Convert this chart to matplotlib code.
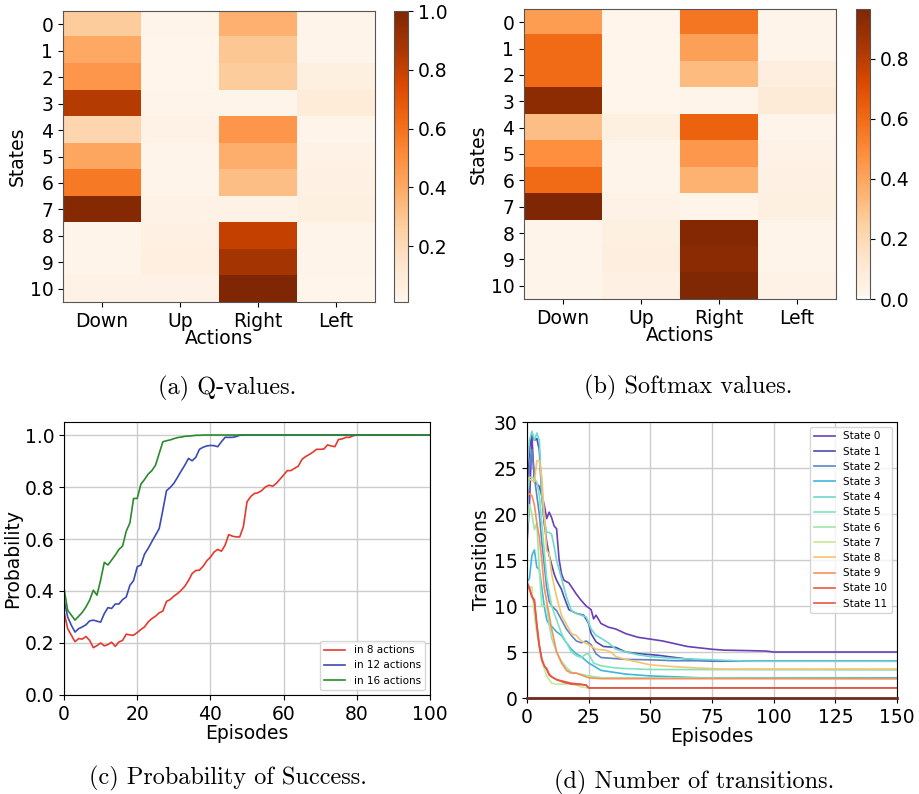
import matplotlib
matplotlib.use("Agg")
import matplotlib.pyplot as plt
import numpy as np

# ---- dados ----
estados = [str(i) for i in range(11)]
acoes = ["Down", "Up", "Right", "Left"]

q_values = [
    [0.27, 0.02, 0.37, 0.02],
    [0.40, 0.01, 0.29, 0.02],
    [0.47, 0.01, 0.27, 0.05],
    [0.84, 0.02, 0.02, 0.09],
    [0.22, 0.03, 0.47, 0.02],
    [0.41, 0.02, 0.38, 0.03],
    [0.57, 0.02, 0.32, 0.04],
    [0.98, 0.03, 0.03, 0.05],
    [0.02, 0.04, 0.80, 0.02],
    [0.02, 0.06, 0.88, 0.02],
    [0.03, 0.03, 1.00, 0.01],
]

softmax_values = [
    [0.43, 0.01, 0.56, 0.02],
    [0.60, 0.01, 0.42, 0.02],
    [0.60, 0.01, 0.32, 0.06],
    [0.92, 0.01, 0.02, 0.09],
    [0.31, 0.05, 0.63, 0.02],
    [0.48, 0.02, 0.45, 0.03],
    [0.60, 0.02, 0.35, 0.04],
    [0.966, 0.03, 0.02, 0.05],
    [0.02, 0.05, 0.95, 0.02],
    [0.02, 0.06, 0.93, 0.02],
    [0.02, 0.04, 0.96, 0.03],
]

# probabilidade de sucesso, episódios 0..100
p_8 = [0.32, 0.255, 0.23, 0.205, 0.217, 0.215, 0.225, 0.21, 0.182, 0.19,
       0.20, 0.189, 0.194, 0.203, 0.187, 0.204, 0.21, 0.234, 0.231, 0.23,
       0.24, 0.252, 0.262, 0.281, 0.294, 0.303, 0.316, 0.323, 0.36, 0.367,
       0.38, 0.39, 0.403, 0.418, 0.44, 0.467, 0.479, 0.48, 0.495, 0.516,
       0.53, 0.55, 0.56, 0.553, 0.576, 0.617, 0.611, 0.608, 0.608, 0.647,
       0.743, 0.763, 0.775, 0.778, 0.786, 0.80, 0.807, 0.803, 0.814, 0.83,
       0.846, 0.863, 0.863, 0.872, 0.88, 0.906, 0.917, 0.925, 0.934, 0.945,
       0.945, 0.946, 0.962, 0.958, 0.955, 0.983, 0.985, 0.991, 0.991, 0.997,
       1.0, 1.0, 1.0, 1.0, 1.0, 1.0, 1.0, 1.0, 1.0, 1.0,
       1.0, 1.0, 1.0, 1.0, 1.0, 1.0, 1.0, 1.0, 1.0, 1.0, 1.0]
p_12 = [0.365, 0.30, 0.268, 0.242, 0.255, 0.262, 0.27, 0.285, 0.288, 0.284,
        0.28, 0.313, 0.336, 0.333, 0.35, 0.35, 0.367, 0.377, 0.422, 0.44,
        0.493, 0.50, 0.542, 0.564, 0.59, 0.615, 0.64, 0.711, 0.786, 0.798,
        0.814, 0.837, 0.861, 0.884, 0.91, 0.901, 0.914, 0.945, 0.953, 0.958,
        0.96, 0.959, 0.955, 0.974, 0.991, 0.991, 0.991, 0.994, 0.999, 1.0,
        1.0, 1.0, 1.0, 1.0, 1.0, 1.0, 1.0, 1.0, 1.0, 1.0,
        1.0, 1.0, 1.0, 1.0, 1.0, 1.0, 1.0, 1.0, 1.0, 1.0,
        1.0, 1.0, 1.0, 1.0, 1.0, 1.0, 1.0, 1.0, 1.0, 1.0,
        1.0, 1.0, 1.0, 1.0, 1.0, 1.0, 1.0, 1.0, 1.0, 1.0,
        1.0, 1.0, 1.0, 1.0, 1.0, 1.0, 1.0, 1.0, 1.0, 1.0, 1.0]
p_16 = [0.41, 0.326, 0.307, 0.288, 0.303, 0.318, 0.339, 0.365, 0.403, 0.384,
        0.442, 0.51, 0.50, 0.519, 0.538, 0.56, 0.573, 0.63, 0.662, 0.756,
        0.756, 0.811, 0.829, 0.85, 0.863, 0.884, 0.929, 0.974, 0.978, 0.981,
        0.986, 0.99, 0.992, 0.995, 0.996, 0.997, 0.999, 0.999, 1.0, 1.0,
        1.0, 1.0, 1.0, 1.0, 1.0, 1.0, 1.0, 1.0, 1.0, 1.0,
        1.0, 1.0, 1.0, 1.0, 1.0, 1.0, 1.0, 1.0, 1.0, 1.0,
        1.0, 1.0, 1.0, 1.0, 1.0, 1.0, 1.0, 1.0, 1.0, 1.0,
        1.0, 1.0, 1.0, 1.0, 1.0, 1.0, 1.0, 1.0, 1.0, 1.0,
        1.0, 1.0, 1.0, 1.0, 1.0, 1.0, 1.0, 1.0, 1.0, 1.0,
        1.0, 1.0, 1.0, 1.0, 1.0, 1.0, 1.0, 1.0, 1.0, 1.0, 1.0]
rotulos_prob = ["in 8 actions", "in 12 actions", "in 16 actions"]

# transições por estado: (episódio, valor)
trans_ep = {
    0: [0, 1, 2, 3, 5, 7, 8, 9, 10, 11, 12, 13, 14, 15, 17, 20, 22, 24, 26, 27,
        28, 30, 33, 36, 40, 45, 50, 55, 60, 65, 70, 75, 80, 90, 97, 100, 150],
    1: [0, 1, 2, 3, 4, 5, 6, 7, 8, 9, 10, 11, 12, 14, 15, 17, 20, 23, 25, 26,
        28, 31, 36, 40, 46, 53, 63, 70, 75, 150],
    2: [0, 1, 2, 3, 4, 5, 6, 7, 8, 9, 10, 12, 14, 16, 18, 20, 22, 24, 26, 28,
        30, 35, 40, 50, 60, 150],
    3: [0, 1, 2, 3, 4, 5, 6, 7, 8, 9, 10, 12, 14, 16, 18, 20, 22, 25, 27, 30,
        35, 40, 50, 60, 70, 150],
    4: [0, 1, 2, 3, 4, 5, 6, 7, 8, 9, 10, 11, 12, 14, 16, 18, 20, 22, 24, 26,
        28, 30, 33, 36, 40, 45, 50, 60, 70, 80, 90, 150],
    5: [0, 1, 2, 3, 4, 5, 6, 7, 8, 9, 10, 12, 14, 16, 18, 20, 22, 24, 25, 27,
        30, 35, 40, 50, 150],
    6: [0, 1, 2, 3, 4, 5, 6, 7, 8, 9, 10, 12, 14, 16, 18, 20, 25, 30, 150],
    7: [0, 1, 2, 3, 4, 5, 6, 7, 8, 9, 10, 12, 15, 18, 20, 22, 25, 150],
    8: [0, 1, 3, 4, 5, 6, 7, 8, 9, 10, 12, 14, 16, 18, 20, 22, 25, 28, 32, 34,
        36, 40, 45, 50, 60, 70, 80, 150],
    9: [0, 1, 2, 3, 4, 5, 6, 7, 8, 9, 10, 12, 14, 16, 18, 20, 22, 25, 30, 150],
    10: [0, 1, 2, 3, 4, 5, 6, 7, 8, 9, 10, 12, 15, 18, 22, 24, 25, 150],
    11: [0, 1, 2, 3, 4, 5, 6, 7, 8, 9, 10, 12, 15, 18, 22, 24, 25, 150],
}
trans_val = {
    0: [16.8, 21.0, 28.5, 23.5, 23.0, 21.0, 19.5, 20.2, 19.6, 18.7, 18.4, 15.1,
        13.5, 12.8, 12.5, 11.3, 10.6, 10.0, 9.6, 8.6, 9.0, 8.1, 7.7, 7.5, 7.0,
        6.6, 6.4, 6.2, 5.9, 5.6, 5.45, 5.3, 5.2, 5.15, 5.1, 5.0, 5.0],
    1: [22.0, 27.0, 28.8, 28.0, 28.2, 27.0, 22.0, 19.0, 17.0, 15.5, 14.5, 13.5,
        12.8, 11.8, 11.0, 9.6, 9.2, 9.0, 8.1, 7.0, 6.1, 5.6, 5.5, 5.0, 4.8,
        4.65, 4.3, 4.1, 4.0, 4.0],
    2: [20.0, 25.0, 27.0, 24.0, 22.0, 20.0, 17.0, 14.5, 12.0, 10.5, 10.0, 9.5,
        8.5, 7.5, 6.8, 6.2, 6.0, 6.2, 5.8, 4.8, 4.4, 4.3, 4.2, 4.15, 4.05, 4.0],
    3: [12.6, 13.0, 15.5, 16.1, 14.2, 14.0, 12.0, 10.0, 8.5, 8.0, 7.8, 7.2,
        6.8, 6.0, 5.3, 4.8, 4.5, 3.8, 3.5, 3.0, 2.8, 2.6, 2.4, 2.3, 2.2, 2.2],
    4: [25.0, 28.0, 29.0, 28.0, 28.8, 28.0, 22.0, 19.5, 18.0, 18.0, 17.8, 16.5,
        15.0, 13.0, 11.0, 9.5, 9.2, 9.0, 8.8, 7.5, 6.8, 6.5, 6.0, 5.3, 5.0,
        4.7, 4.5, 4.3, 4.2, 4.1, 4.0, 4.0],
    5: [22.0, 24.0, 24.0, 23.8, 23.5, 22.0, 19.0, 16.0, 13.0, 11.5, 10.0, 8.5,
        7.0, 6.0, 5.0, 4.6, 4.4, 4.8, 4.8, 3.8, 3.5, 3.3, 3.2, 3.1, 3.05],
    6: [18.0, 21.0, 20.0, 18.3, 19.0, 14.0, 10.0, 10.0, 10.0, 8.0, 6.5, 5.0,
        4.0, 3.3, 2.8, 2.7, 2.4, 2.2, 2.1],
    7: [12.3, 12.0, 12.1, 9.0, 7.0, 5.5, 4.2, 3.2, 2.4, 2.0, 1.6, 1.5, 1.5,
        1.6, 1.4, 1.2, 1.1, 1.1],
    8: [24.0, 23.8, 23.5, 25.8, 25.8, 24.0, 20.0, 16.0, 15.7, 13.5, 11.0, 9.0,
        8.0, 7.0, 6.8, 6.2, 5.8, 5.3, 5.2, 5.0, 4.5, 4.2, 3.9, 3.6, 3.4, 3.25,
        3.15, 3.15],
    9: [22.0, 22.2, 22.0, 21.0, 19.0, 17.5, 15.0, 12.0, 10.5, 9.0, 7.5, 5.0,
        3.8, 3.0, 2.7, 2.7, 2.5, 2.2, 2.1, 2.1],
    10: [12.5, 11.8, 11.0, 10.7, 7.8, 5.6, 4.1, 3.5, 3.1, 2.5, 2.3, 2.0, 1.7,
         1.5, 1.45, 1.4, 1.1, 1.1],
    11: [12.6, 12.0, 11.0, 10.5, 8.0, 5.8, 4.3, 3.5, 3.2, 2.6, 2.3, 2.0, 1.8,
         1.6, 1.5, 1.4, 1.1, 1.1],
}
cores_estados = ["#6a3fb5", "#4b4bb0", "#5d85c6", "#3fb6dc", "#6dd9cf", "#80e3c0",
                 "#9ee6a6", "#c8e89a", "#f7c36c", "#f98f5a", "#ea5a3c", "#e3584a"]
ep_zero = [0, 150]
val_zero = [0, 0]

TAM = 13.5
LEG = 7.5
CAP = 17.5

fig = plt.figure(figsize=(9.2, 7.94), dpi=100)


def heatmap(pos_ax, pos_cb, dados, ticks_cb):
    ax = fig.add_axes(pos_ax)
    im = ax.imshow(np.array(dados), cmap="Oranges", aspect="auto")
    ax.set_xticks(range(len(acoes)))
    ax.set_xticklabels(acoes, fontsize=TAM)
    ax.set_yticks(range(len(estados)))
    ax.set_yticklabels(estados, fontsize=TAM)
    ax.set_xlabel("Actions", fontsize=TAM, labelpad=-1)
    ax.set_ylabel("States", fontsize=TAM, labelpad=2)
    for s in ax.spines.values():
        s.set_color("#555555")
    cax = fig.add_axes(pos_cb)
    cb = fig.colorbar(im, cax=cax)
    cb.set_ticks(ticks_cb)
    cb.ax.tick_params(labelsize=TAM)
    cb.outline.set_edgecolor("#555555")
    return ax


heatmap([0.0685, 0.6196, 0.339, 0.3665], [0.4283, 0.6196, 0.0152, 0.3665],
        q_values, [0.2, 0.4, 0.6, 0.8, 1.0])
heatmap([0.5696, 0.6234, 0.3391, 0.3653], [0.9304, 0.6234, 0.0152, 0.3653],
        softmax_values, [0.0, 0.2, 0.4, 0.6, 0.8])

# (c) probabilidade de sucesso
axc = fig.add_axes([0.0696, 0.1247, 0.3978, 0.3438])
eps = np.arange(len(p_8))
for serie, cor, rot in zip((p_8, p_12, p_16), ("#e5392e", "#3a4cb3", "#2b8a2b"),
                           rotulos_prob):
    axc.plot(eps, serie, color=cor, lw=1.2, label=rot)
axc.set_xlim(0, 100)
axc.set_ylim(0, 1.05)
axc.set_yticks([0.0, 0.2, 0.4, 0.6, 0.8, 1.0])
axc.tick_params(labelsize=TAM)
axc.set_xlabel("Episodes", fontsize=TAM, labelpad=0)
axc.set_ylabel("Probability", fontsize=TAM, labelpad=2)
axc.grid(color="#cccccc", lw=1.0)
axc.legend(fontsize=LEG, loc="lower right")

# (d) número de transições
axd = fig.add_axes([0.5728, 0.1209, 0.4022, 0.3476])
for k in range(12):
    axd.plot(trans_ep[k], trans_val[k], color=cores_estados[k], lw=1.2,
             label=f"State {k}")
axd.plot(ep_zero, val_zero, color="#6e2c1e", lw=2.0, clip_on=False, zorder=3)
axd.set_xlim(0, 150)
axd.set_ylim(0, 30)
axd.set_xticks([0, 25, 50, 75, 100, 125, 150])
axd.tick_params(labelsize=TAM)
axd.set_xlabel("Episodes", fontsize=TAM, labelpad=0)
axd.set_ylabel("Transitions", fontsize=TAM, labelpad=2)
axd.grid(color="#cccccc", lw=1.0)
axd.legend(fontsize=LEG, loc="upper right")

# legendas das subfiguras
fig.text(227 / 920, 1 - 388 / 794, "(a) Q-values.", family="cmr10", fontsize=CAP,
         ha="center", va="center")
fig.text(688 / 920, 1 - 387 / 794, "(b) Softmax values.", family="cmr10",
         fontsize=CAP, ha="center", va="center")
fig.text(228 / 920, 1 - 778 / 794, "(c) Probability of Success.", family="cmr10",
         fontsize=CAP, ha="center", va="center")
fig.text(694 / 920, 1 - 782 / 794, "(d) Number of transitions.", family="cmr10",
         fontsize=CAP, ha="center", va="center")

fig.savefig("out.png", dpi=100)
